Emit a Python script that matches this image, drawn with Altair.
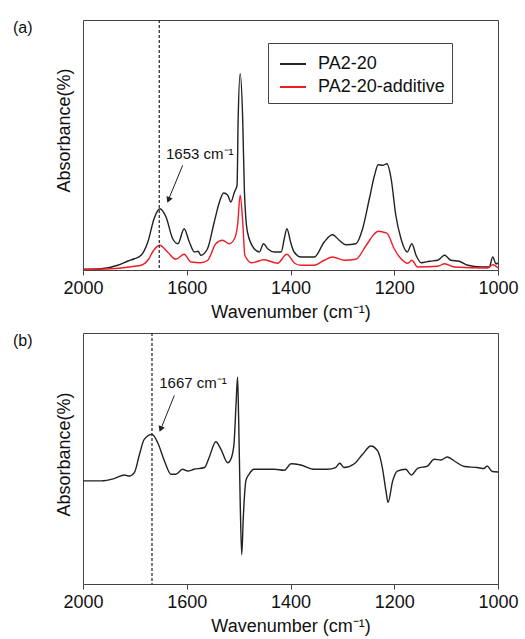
import altair as alt
import pandas as pd

# ---------------- data ----------------
series_names = ["PA2-20", "PA2-20-additive"]

wn_black_a = [1800, 1765, 1733, 1713, 1701, 1688, 1675, 1663, 1652, 1640, 1627, 1617, 1605, 1595,
              1585, 1578, 1573, 1560, 1547, 1537, 1529, 1521, 1515, 1508, 1503, 1501, 1497, 1492,
              1489, 1483, 1470, 1460, 1452, 1444, 1431, 1418, 1412, 1407, 1399, 1393, 1380, 1354,
              1335, 1319, 1306, 1293, 1274, 1261, 1248, 1238, 1231, 1222, 1214, 1206, 1197, 1187,
              1175, 1166, 1158, 1148, 1132, 1116, 1103, 1091, 1075, 1058, 1033, 1017, 1010, 1004, 1000]
abs_black_a = [0.3, 0.5, 1.9, 3.6, 4.5, 5.9, 11.2, 20.5, 24.5, 21.2, 12.5, 10.5, 16.5, 11.2,
               7.2, 7.5, 5.9, 8.5, 19.2, 27.2, 30.8, 29.9, 27.2, 31.2, 33.9, 59.2, 78.5, 59.2,
               32.5, 15.2, 8.5, 7.2, 10.5, 8.5, 7.2, 7.2, 12.5, 16.5, 10.5, 7.2, 5.2, 5.2,
               11.2, 14.1, 11.9, 10.1, 10.5, 16.5, 28.5, 37.9, 42.1, 41.9, 42.5, 36.5, 21.9, 12.5,
               7.2, 10.5, 5.9, 2.9, 3.5, 3.9, 5.9, 3.9, 3.5, 1.9, 1.2, 1.2, 5.2, 2.5, 2.7]

wn_red_a = [1800, 1746, 1701, 1688, 1673, 1665, 1652, 1637, 1621, 1605, 1592, 1573, 1560, 1544,
            1531, 1518, 1508, 1502, 1497, 1492, 1488, 1475, 1451, 1425, 1407, 1392, 1380, 1354,
            1335, 1319, 1296, 1274, 1254, 1238, 1231, 1220, 1214, 1200, 1187, 1174, 1166, 1155,
            1116, 1103, 1084, 1020, 1010, 1000]
abs_red_a = [0.2, 0.5, 1.5, 1.9, 4.5, 7.5, 9.9, 7.2, 4.3, 6.3, 3.2, 2.9, 3.8, 10.5,
             11.9, 10.5, 12.5, 18.0, 29.9, 19.0, 5.9, 2.9, 4.1, 2.7, 6.3, 2.7, 1.9, 1.9,
             3.9, 5.2, 3.9, 4.3, 9.9, 14.5, 15.5, 15.1, 14.7, 8.5, 4.5, 2.7, 3.9, 1.2,
             1.5, 2.5, 1.2, 0.8, 2.1, 0.8]

wn_b = [1800, 1765, 1740, 1720, 1711, 1701, 1691, 1682, 1667, 1656, 1643, 1630, 1621, 1608,
        1598, 1586, 1566, 1557, 1544, 1534, 1521, 1515, 1509, 1505, 1502, 1500, 1497, 1494,
        1491, 1486, 1480, 1470, 1451, 1431, 1412, 1399, 1380, 1354, 1329, 1313, 1305, 1297,
        1277, 1261, 1245, 1232, 1223, 1216, 1212, 1203, 1194, 1178, 1167, 1155, 1136, 1123,
        1110, 1098, 1082, 1065, 1040, 1027, 1021, 1011, 1000]
abs_b = [41.1, 41.1, 42.0, 43.4, 43.0, 44.4, 51.7, 57.6, 59.6, 56.3, 49.0, 43.7, 43.7, 45.7,
         45.0, 45.7, 46.4, 50.3, 56.7, 53.6, 48.3, 49.7, 55.6, 71.5, 82.4, 66.2, 33.1, 11.7,
         26.5, 41.1, 43.7, 45.7, 45.7, 45.7, 45.3, 47.9, 47.4, 45.7, 45.7, 46.4, 48.1, 46.4,
         47.9, 51.7, 55.0, 53.0, 46.4, 37.1, 32.5, 41.1, 45.0, 45.7, 43.4, 46.1, 47.0, 49.7,
         49.4, 50.6, 48.7, 46.8, 46.4, 46.0, 47.0, 44.8, 44.6]

x_tick_values = [1800, 1600, 1400, 1200, 1000]
x_tick_labels = ["2000", "1600", "1400", "1200", "1000"]

peak_a = 1653
peak_b = 1667
label_a = "1653 cm⁻¹"
label_b = "1667 cm⁻¹"

# annotation anchor points (data units)
text_a = {"wn": 1640, "v": 46.6}
arrow_a = {"wn": 1607.8, "v": 41.9, "wn2": 1636.5, "v2": 27.5}
head_a = {"wn": 1635.2, "v": 28.0}
text_b = {"wn": 1653, "v": 79.9}
arrow_b = {"wn": 1624, "v": 75.1, "wn2": 1649.5, "v2": 62.0}
head_b = {"wn": 1650.3, "v": 61.7}

# ---------------- styling ----------------
FONT = "Liberation Sans"
BLACK = "#222222"
RED = "#ee1c25"
FRAME = "#444444"
W, H = 415, 250
FS = 18

label_map = "{" + ",".join(f"'{v}':'{l}'" for v, l in zip(x_tick_values, x_tick_labels)) + "}"

x_axis = alt.Axis(values=x_tick_values, labelExpr=f"{label_map}[toString(datum.value)]",
                  title="Wavenumber (cm⁻¹)", grid=False, domain=False, ticks=True, tickSize=5,
                  tickColor=FRAME, labelFontSize=FS, titleFontSize=FS, labelPadding=4,
                  titlePadding=6, labelFont=FONT, titleFont=FONT, titleFontWeight="normal",
                  labelColor="#111", titleColor="#111", labelFlush=False, labelOverlap=False,
                  labelBound=False)


def y_axis(title_y):
    return alt.Axis(title="Absorbance(%)", labels=False, ticks=False, domain=False, grid=False,
                    titleFontSize=FS, titleFont=FONT, titleFontWeight="normal", titleColor="#111",
                    titleY=title_y, titleX=-10, titleBaseline="bottom", titleAngle=-90,
                    titleAlign="center")


xscale = alt.Scale(domain=[1800, 1000], nice=False, zero=False)
yscale = alt.Scale(domain=[0, 100], nice=False, zero=False)

df_a = pd.concat([
    pd.DataFrame({"wn": wn_black_a, "v": abs_black_a, "series": series_names[0]}),
    pd.DataFrame({"wn": wn_red_a, "v": abs_red_a, "series": series_names[1]}),
])
df_b = pd.DataFrame({"wn": wn_b, "v": abs_b})


def annotations(peak, text, label, arrow, head, panel_label):
    rule = alt.Chart(pd.DataFrame({"wn": [peak]})).mark_rule(
        color=BLACK, strokeDash=[3, 2], strokeWidth=1.2).encode(x=alt.X("wn:Q", scale=xscale))
    txt = alt.Chart(pd.DataFrame([{**text, "t": label}])).mark_text(
        align="left", baseline="middle", fontSize=15, font=FONT, color="#111").encode(
        x=alt.X("wn:Q", scale=xscale), y=alt.Y("v:Q", scale=yscale), text="t:N")
    arr = alt.Chart(pd.DataFrame([arrow])).mark_rule(color=BLACK, strokeWidth=1).encode(
        x=alt.X("wn:Q", scale=xscale), y=alt.Y("v:Q", scale=yscale), x2="wn2:Q", y2="v2:Q")
    hd = alt.Chart(pd.DataFrame([head])).mark_point(
        shape="triangle-down", filled=True, size=45, angle=22, color=BLACK, opacity=1).encode(
        x=alt.X("wn:Q", scale=xscale), y=alt.Y("v:Q", scale=yscale))
    pl = alt.Chart(pd.DataFrame({"t": [panel_label]})).mark_text(
        align="left", baseline="top", fontSize=16, font=FONT, color="#111").encode(
        x=alt.value(-70), y=alt.value(0), text="t:N")
    return [rule, txt, arr, hd, pl]


lines_a = alt.Chart(df_a).mark_line(strokeWidth=1.4, interpolate="monotone").encode(
    x=alt.X("wn:Q", scale=xscale, axis=x_axis),
    y=alt.Y("v:Q", scale=yscale, axis=y_axis(110)),
    color=alt.Color("series:N", scale=alt.Scale(domain=series_names, range=[BLACK, RED]),
                    legend=alt.Legend(title=None, orient="none", legendX=185, legendY=23,
                                      symbolType="stroke", symbolSize=676, symbolStrokeWidth=2,
                                      symbolOffset=4, labelFontSize=FS, labelFont=FONT,
                                      labelColor="#111", strokeColor=FRAME, fillColor="white",
                                      padding=7, rowPadding=-2, labelOffset=11, cornerRadius=0)),
    detail="series:N",
)

lines_b = alt.Chart(df_b).mark_line(strokeWidth=1.4, interpolate="monotone", color=BLACK).encode(
    x=alt.X("wn:Q", scale=xscale, axis=x_axis),
    y=alt.Y("v:Q", scale=yscale, axis=y_axis(121)),
)

panel_a = alt.layer(lines_a, *annotations(peak_a, text_a, label_a, arrow_a, head_a, "(a)")).properties(
    width=W, height=H)
panel_b = alt.layer(lines_b, *annotations(peak_b, text_b, label_b, arrow_b, head_b, "(b)")).properties(
    width=W, height=251)

chart = alt.vconcat(panel_a, panel_b, spacing=9).properties(
    padding={"left": 12, "top": 18, "right": 5, "bottom": 0},
    background="white",
).configure_view(stroke=FRAME, strokeWidth=1)

chart.save("out.html", embed_options={"renderer": "svg", "actions": False})
